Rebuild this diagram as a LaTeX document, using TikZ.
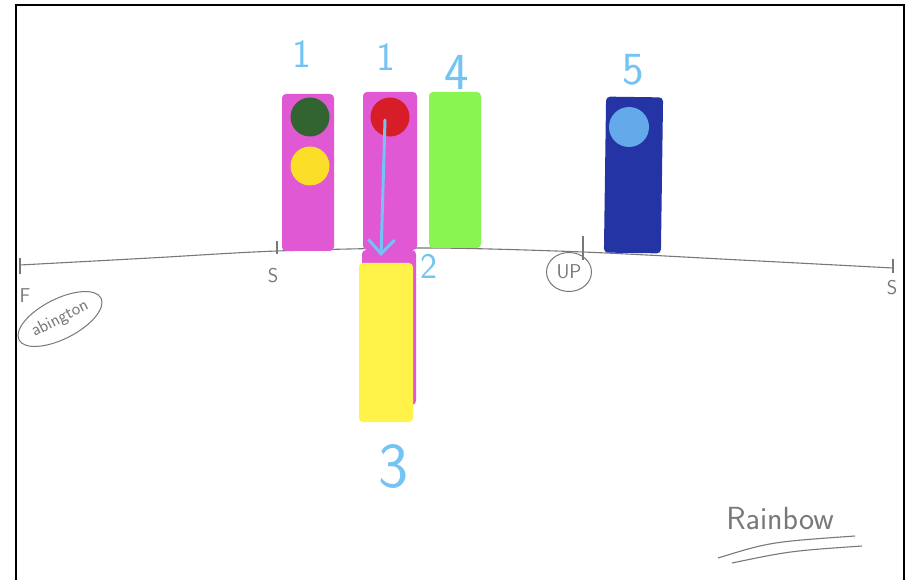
\documentclass[tikz,border=0pt]{standalone}
\usetikzlibrary{arrows.meta,shapes.geometric}
\definecolor{pinkS}{RGB}{224,88,212}
\definecolor{dgreen}{RGB}{50,100,50}
\definecolor{yelC}{RGB}{250,222,40}
\definecolor{redC}{RGB}{215,30,40}
\definecolor{greenS}{RGB}{136,245,80}
\definecolor{yelS}{RGB}{255,242,72}
\definecolor{blueS}{RGB}{36,52,165}
\definecolor{lblueC}{RGB}{100,170,235}
\definecolor{lab}{RGB}{115,195,245}
\definecolor{pencil}{RGB}{120,120,120}
\tikzset{
  stick/.style={rectangle, rounded corners=4pt, inner sep=0pt, draw=none},
  dot/.style={circle, inner sep=0pt, minimum size=39pt, draw=none},
  num/.style={text=lab, font=\sffamily, inner sep=0pt},
  pen/.style={draw=pencil, line width=1.1pt},
  ptext/.style={text=pencil, font=\sffamily, inner sep=1pt},
}
\begin{document}
\begin{tikzpicture}[x=1pt,y=-1pt]
\useasboundingbox (0,0) rectangle (911,580);
\fill[white] (0,0) rectangle (911,580);
% frame
\draw[line width=2.5pt] (16,580) -- (16,5) -- (904,5) -- (904,580);
% horizon
\draw[pen] plot[smooth] coordinates {(20,265) (150,258) (277,251) (430,248) (583,252) (740,260) (893,268)};
\draw[pen] (20,258) -- (20,274);
\draw[pen] (277,241) -- (277,254);
\draw[pen] (583,236) -- (583,260);
\draw[pen] (893,259) -- (893,273);
\node[ptext, font=\sffamily\fontsize{20}{20}\selectfont] (sL) at (273,276) {S};
\node[ptext, font=\sffamily\fontsize{20}{20}\selectfont] (sR) at (892,288) {S};
\node[ptext, font=\sffamily\fontsize{20}{20}\selectfont] (F) at (25,296) {F};
% abington ellipse
\draw[pen, line width=1pt, rotate around={27:(60,319)}] (60,319) ellipse [x radius=46pt, y radius=20pt];
\node[ptext, inner sep=0pt, rotate=27, font=\sffamily\fontsize{18}{18}\selectfont] (ab) at (60,319) {abington};
\node[ptext, draw=pencil, line width=1pt, ellipse, inner sep=0pt, minimum width=45pt, minimum height=39pt, font=\sffamily\fontsize{20}{20}\selectfont] (up) at (569,272) {UP};
% stickers
\node[stick, fill=pinkS, minimum width=52pt, minimum height=157pt] (s1) at (308,172.5) {};
\node[dot, fill=dgreen] (c1) at (310,117) {};
\node[dot, fill=yelC] (c2) at (310,166) {};
\node[stick, fill=pinkS, minimum width=54pt, minimum height=158pt] (s2) at (390,171) {};
\node[dot, fill=redC] (c3) at (390,117) {};
\node[stick, fill=pinkS, minimum width=54pt, minimum height=155pt] (s2b) at (389,327.5) {};
\node[stick, fill=yelS, minimum width=54pt, minimum height=159pt] (s3) at (386,342.5) {};
\node[stick, fill=greenS, minimum width=52pt, minimum height=156pt] (s4) at (455,170) {};
\node[stick, fill=blueS, minimum width=57pt, minimum height=156pt, rotate=-0.8] (s5) at (633.5,175) {};
\node[dot, fill=lblueC, minimum size=40pt] (c5) at (629,127) {};
% arrow
\coordinate (astart) at (385,120);
\coordinate (atip) at (381,256);
\draw[draw=lab, line width=3pt, line cap=round, -{Straight Barb[length=14pt, width=26pt, line width=3pt]}] (astart) -- (atip);
% numbers
\node[num, font=\sffamily\fontsize{40}{40}\selectfont] (n1a) at (302,54) {1};
\node[num, font=\sffamily\fontsize{40}{40}\selectfont] (n1b) at (386,57) {1};
\node[num, font=\sffamily\fontsize{52}{52}\selectfont] (n4) at (457,72) {4};
\node[num, font=\sffamily\fontsize{46}{46}\selectfont] (n5) at (633,70) {5};
\node[num, font=\sffamily\fontsize{36}{36}\selectfont] (n2) at (429,266) {2};
\node[num, font=\sffamily\fontsize{64}{64}\selectfont] (n3) at (394,467) {3};
% Rainbow
\node[ptext, font=\sffamily\fontsize{32}{32}\selectfont] (rb) at (780,519) {Rainbow};
\coordinate (u1a) at (718,558);
\coordinate (u1b) at (855,536);
\coordinate (u2a) at (732,563);
\coordinate (u2b) at (862,546);
\draw[pen] (u1a) .. controls (770,542) .. (u1b);
\draw[pen] (u2a) .. controls (790,551) .. (u2b);
\end{tikzpicture}
\end{document}
